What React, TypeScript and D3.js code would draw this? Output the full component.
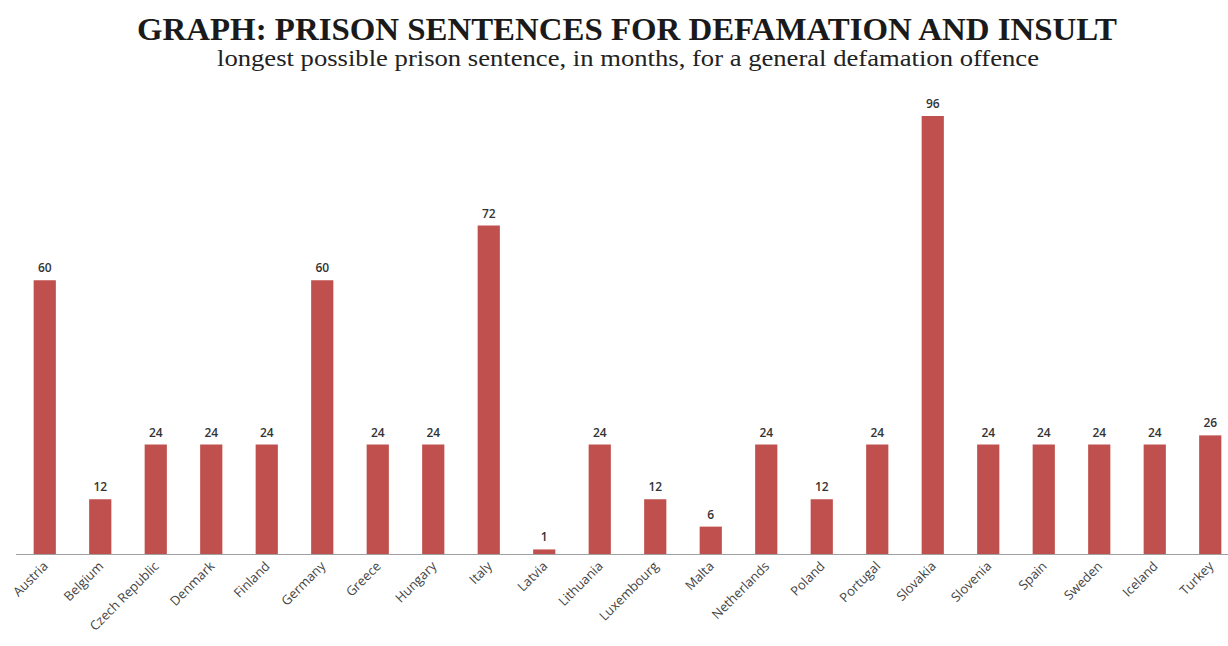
import React from "react";
import * as d3 from "d3";

const countries = ["Austria","Belgium","Czech Republic","Denmark","Finland","Germany","Greece","Hungary","Italy","Latvia","Lithuania","Luxembourg","Malta","Netherlands","Poland","Portugal","Slovakia","Slovenia","Spain","Sweden","Iceland","Turkey"];
const months = [60,12,24,24,24,60,24,24,72,1,24,12,6,24,12,24,96,24,24,24,24,26];

const W = 1228, H = 646;
const baseY = 554;

export default function App() {
  const x = d3.scaleBand<string>().domain(countries).range([17, 1238]).paddingInner(0.6).paddingOuter(0.3);
  const y = d3.scaleLinear().domain([0, 96]).range([baseY, 116]);
  return (
    <svg width={W} height={H} style={{ position: "absolute", left: 0, top: 0, background: "#fff" }}>
      <text x={627} y={40} textAnchor="middle" fontFamily="'Liberation Serif', 'DejaVu Serif', serif" fontWeight="bold" fontSize={32} fill="#1a1a1a" textLength={980} lengthAdjust="spacingAndGlyphs">GRAPH: PRISON SENTENCES FOR DEFAMATION AND INSULT</text>
      <text x={628} y={66} textAnchor="middle" fontFamily="'Liberation Serif', 'DejaVu Serif', serif" fontSize={24} fill="#222" textLength={822} lengthAdjust="spacingAndGlyphs">longest possible prison sentence, in months, for a general defamation offence</text>
      <line x1={16} x2={1228} y1={baseY + 0.5} y2={baseY + 0.5} stroke="#a0a0a0" strokeWidth={1.2} />
      {countries.map((c, i) => {
        const bx = x(c)!;
        const bw = x.bandwidth();
        const cx = bx + bw / 2;
        return (
          <g key={c}>
            <rect x={bx} y={y(months[i])} width={bw} height={baseY - y(months[i])} fill="#c0504d" />
            <text x={cx} y={y(months[i]) - 8} textAnchor="middle" fontFamily="'Open Sans', 'Liberation Sans', sans-serif" fontSize={12} fontWeight={600} fill="#333">{months[i]}</text>
            <text transform={`translate(${cx + 4},${baseY + 13}) rotate(-45)`} textAnchor="end" fontFamily="'Open Sans', 'Liberation Sans', sans-serif" fontSize={13} fill="#444">{c}</text>
          </g>
        );
      })}
    </svg>
  );
}
